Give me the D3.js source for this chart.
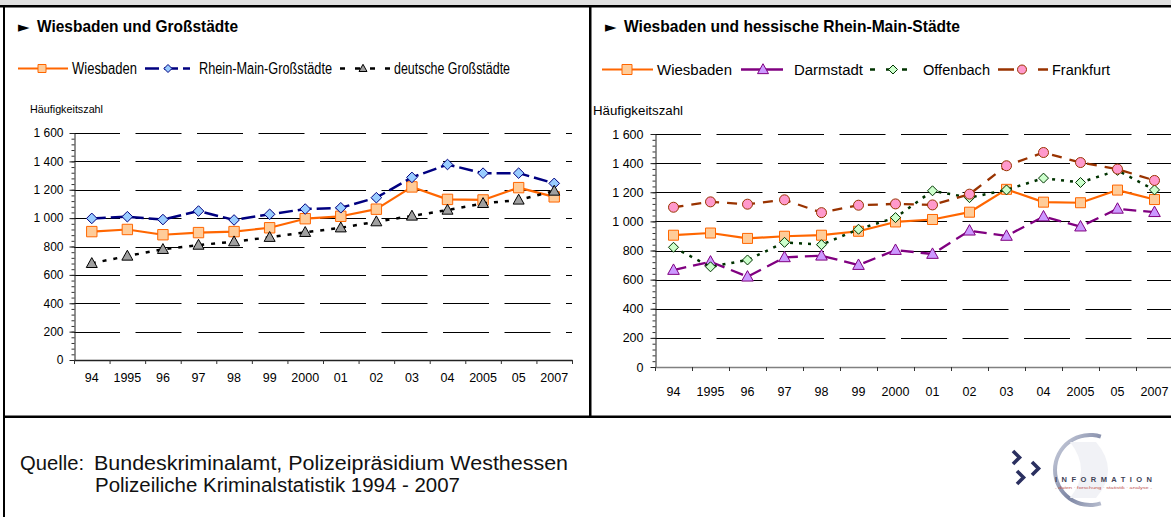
<!DOCTYPE html>
<html>
<head>
<meta charset="utf-8">
<script src="https://cdn.jsdelivr.net/npm/d3@7"></script>
<style>
body { margin: 0; background: #fff; }
svg { display: block; font-family: Arial, "Liberation Sans", sans-serif; }
</style>
</head>
<body>
<div id="chart"></div>
<script>
// Häufigkeitszahl 1994 - 2007
const years = ['94', '1995', '96', '97', '98', '99', '2000', '01', '02', '03', '04', '2005', '05', '2007']
const yTicks = [0, 200, 400, 600, 800, 1000, 1200, 1400, 1600]

const wiesbaden = [905, 920, 883, 898, 905, 932, 996, 1013, 1063, 1220, 1132, 1128, 1215, 1150]
const rheinMain = [998, 1010, 990, 1050, 987, 1027, 1064, 1073, 1144, 1287, 1378, 1317, 1317, 1245]
const deutsche = [681, 733, 780, 810, 834, 865, 900, 932, 975, 1015, 1057, 1104, 1128, 1191]

const darmstadt = [666, 723, 620, 753, 764, 700, 803, 776, 936, 900, 1033, 964, 1086, 1063]
const offenbach = [822, 688, 735, 856, 840, 946, 1026, 1210, 1163, 1216, 1297, 1267, 1350, 1216]
const frankfurt = [1097, 1134, 1118, 1148, 1060, 1111, 1120, 1113, 1187, 1382, 1473, 1404, 1359, 1281]

const W = 1171, H = 517
const fmt = d3.formatLocale({ decimal: ',', thousands: ' ', grouping: [3], currency: ['', ''] }).format(',d')

const svg = d3.select('#chart').append('svg')
    .attr('width', W)
    .attr('height', H)

// frame
svg.append('rect').attr('x', 0).attr('y', 0).attr('width', W).attr('height', 5).attr('fill', '#e0e0e0')
svg.append('rect').attr('x', 0).attr('y', 5).attr('width', W).attr('height', 2.5).attr('fill', '#000')
svg.append('rect').attr('x', 3).attr('y', 5).attr('width', 2).attr('height', H).attr('fill', '#000')
svg.append('rect').attr('x', 589).attr('y', 5).attr('width', 2.5).attr('height', 412).attr('fill', '#000')
svg.append('rect').attr('x', 3).attr('y', 415.5).attr('width', W).attr('height', 2.5).attr('fill', '#000')

// marker shapes
function markerPath(type, s) {
    if (type == 'square') return `M${-s},${-s}H${s}V${s}H${-s}Z`
    if (type == 'diamond') return `M0,${-s}L${s},0L0,${s}L${-s},0Z`
    if (type == 'triangle') return `M0,${-s * 1.05}L${s},${s * 0.75}L${-s},${s * 0.75}Z`
    return null
}

function drawMarker(g, type, s, cx, cy, st) {
    if (type == 'circle') {
        g.append('circle').attr('cx', cx).attr('cy', cy).attr('r', s)
            .attr('fill', st.fill).attr('stroke', st.color).attr('stroke-width', 1)
    } else {
        g.append('path').attr('d', markerPath(type, s))
            .attr('transform', `translate(${cx},${cy})`)
            .attr('fill', st.fill).attr('stroke', st.color).attr('stroke-width', 1)
    }
}

const crisp = v => Math.round(v) + 0.5

function drawPanel(p) {
    const g = svg.append('g')

    // title
    g.append('text').attr('x', p.titleX).attr('y', 31.5)
        .attr('font-size', 15).attr('font-family', '"DejaVu Sans", sans-serif')
        .text('►')
    g.append('text').attr('x', p.titleX + 19).attr('y', 32)
        .attr('font-size', 16.5).attr('font-weight', 'bold')
        .attr('textLength', p.titleW).attr('lengthAdjust', 'spacingAndGlyphs')
        .text(p.title)

    // legend
    p.series.forEach(s => {
        const lg = g.append('g')
        lg.append('line')
            .attr('x1', s.leg[0]).attr('x2', s.leg[1])
            .attr('y1', p.legY).attr('y2', p.legY)
            .attr('stroke', s.color).attr('stroke-width', s.width)
            .attr('stroke-dasharray', s.legDash)
        drawMarker(lg, s.marker, s.legSize, s.leg[2], p.legY, s)
        lg.append('text').attr('x', s.leg[3]).attr('y', p.legY + 5)
            .attr('font-size', p.legFont)
            .attr('textLength', s.leg[4]).attr('lengthAdjust', 'spacingAndGlyphs')
            .text(s.name)
    })

    g.append('text').attr('x', p.unitX).attr('y', p.unitY)
        .attr('font-size', p.unitFont)
        .attr('textLength', p.unitW).attr('lengthAdjust', 'spacingAndGlyphs')
        .text('Häufigkeitszahl')

    const x = d3.scaleBand().domain(years).range([p.x0, p.x1])
    const y = d3.scaleLinear().domain([0, 1600]).range([p.y0, p.y1])

    // dashed gridlines
    g.append('g').selectAll('line')
        .data(yTicks.filter(d => d > 0))
        .join('line')
        .attr('x1', p.x0).attr('x2', p.x1)
        .attr('y1', d => crisp(y(d))).attr('y2', d => crisp(y(d)))
        .attr('stroke', '#000').attr('stroke-width', 1)
        .attr('stroke-dasharray', p.gridDash)

    // y axis: minor + major ticks
    const minor = d3.range(0, 1601, 40)
    g.append('g').attr('transform', `translate(${crisp(p.x0)},0)`)
        .call(d3.axisLeft(y).tickValues(minor).tickSize(3).tickSizeOuter(0).tickFormat(''))
        .call(a => a.select('.domain').remove())
        .call(a => a.selectAll('line').attr('stroke', '#333'))
    g.append('g').attr('transform', `translate(${crisp(p.x0)},0)`)
        .call(d3.axisLeft(y).tickValues(yTicks).tickSize(5).tickSizeOuter(0).tickPadding(p.yPad).tickFormat(fmt))
        .call(a => a.select('.domain').attr('stroke', '#222'))
        .call(a => a.selectAll('line').attr('stroke', '#222'))
        .call(a => a.selectAll('text').attr('font-size', p.yFont).attr('fill', '#000')
            .attr('font-family', 'Arial, "Liberation Sans", sans-serif'))

    // x axis with ticks at the category edges
    const edge = d3.scaleLinear().domain([0, years.length]).range([p.x0, p.x1])
    g.append('g').attr('transform', `translate(0,${p.y0})`)
        .call(d3.axisBottom(edge).tickValues(d3.range(years.length + 1)).tickSize(4).tickSizeOuter(0).tickFormat(''))
        .call(a => a.select('.domain').attr('stroke', p.xAxisColor).attr('stroke-width', 1.5))
        .call(a => a.selectAll('line').attr('stroke', '#333'))
    g.append('g').attr('transform', `translate(0,${p.y0})`)
        .call(d3.axisBottom(x).tickSize(0).tickPadding(p.xPad))
        .call(a => a.select('.domain').remove())
        .call(a => a.selectAll('text').attr('font-size', p.xFont).attr('fill', '#000')
            .attr('font-family', 'Arial, "Liberation Sans", sans-serif'))

    // series
    const cx = i => x(years[i]) + x.bandwidth() / 2
    p.series.forEach(s => {
        const sg = g.append('g')
        sg.append('path').datum(s.values)
            .attr('d', d3.line().x((d, i) => cx(i)).y(d => y(d)))
            .attr('fill', 'none')
            .attr('stroke', s.color).attr('stroke-width', s.width)
            .attr('stroke-dasharray', s.dash)
            .attr('stroke-linejoin', 'round')
        s.values.forEach((v, i) => drawMarker(sg, s.marker, s.size, cx(i), y(v), s))
    })
}

drawPanel({
    title: 'Wiesbaden und Großstädte', titleX: 18, titleW: 201,
    legY: 68.5, legFont: 16,
    unitX: 30, unitY: 113, unitFont: 11, unitW: 73,
    x0: 74, x1: 572, y0: 360, y1: 133,
    gridDash: '46,15.5', yFont: 12, yPad: 6, xFont: 12.5, xPad: 13, xAxisColor: '#222',
    series: [
        { name: 'Wiesbaden', values: wiesbaden, color: '#ff6600', fill: '#ffcc99', width: 2.2, dash: 'none', legDash: 'none',
          marker: 'square', size: 5.2, legSize: 4, leg: [18, 68, 42, 72, 65] },
        { name: 'Rhein-Main-Großstädte', values: rheinMain, color: '#000080', fill: '#99ccff', width: 2.5, dash: '14,5',
          legDash: '14,5', marker: 'diamond', size: 5.3, legSize: 4, leg: [145, 190, 168, 199, 133] },
        { name: 'deutsche Großstädte', values: deutsche, color: '#000', fill: '#a0a0a0', width: 2.5, dash: '4,7',
          legDash: '5,10', marker: 'triangle', size: 5.5, legSize: 4, leg: [340, 392, 363, 394, 116] }
    ]
})

drawPanel({
    title: 'Wiesbaden und hessische Rhein-Main-Städte', titleX: 605, titleW: 336,
    legY: 69.5, legFont: 15.5,
    unitX: 593, unitY: 115, unitFont: 13, unitW: 90,
    x0: 655, x1: 1173, y0: 367, y1: 134,
    gridDash: '46,15.5', yFont: 12.5, yPad: 7, xFont: 12.5, xPad: 20, xAxisColor: '#808080',
    series: [
        { name: 'Wiesbaden', values: wiesbaden, color: '#ff6600', fill: '#ffcc99', width: 2.2, dash: 'none', legDash: 'none',
          marker: 'square', size: 5, legSize: 5, leg: [602, 653, 627, 657, 75] },
        { name: 'Darmstadt', values: darmstadt, color: '#800080', fill: '#cc99ff', width: 2.3, dash: '13,7',
          legDash: 'none', marker: 'triangle', size: 5.8, legSize: 5.5, leg: [741, 783, 763, 794, 69] },
        { name: 'Offenbach', values: offenbach, color: '#003300', fill: '#ccffcc', width: 2.5, dash: '3,6',
          legDash: '5,11', marker: 'diamond', size: 5, legSize: 4.5, leg: [870, 918, 893, 923, 67] },
        { name: 'Frankfurt', values: frankfurt, color: '#993300', fill: '#ff99cc', width: 2.3, dash: '10,8',
          legDash: '16,24', marker: 'circle', size: 5, legSize: 4.5, leg: [998, 1048, 1022, 1052, 58] }
    ]
})

// source note
const foot = svg.append('g').attr('font-size', 19.5).attr('fill', '#111')
foot.append('text').attr('x', 20).attr('y', 470).attr('textLength', 64).attr('lengthAdjust', 'spacingAndGlyphs').text('Quelle:')
foot.append('text').attr('x', 94).attr('y', 470).attr('textLength', 474).attr('lengthAdjust', 'spacingAndGlyphs')
    .text('Bundeskriminalamt, Polizeipräsidium Westhessen')
foot.append('text').attr('x', 95).attr('y', 492).attr('textLength', 365).attr('lengthAdjust', 'spacingAndGlyphs')
    .text('Polizeiliche Kriminalstatistik 1994 - 2007')

// logo
const logo = svg.append('g')
const grad = svg.append('defs').append('linearGradient').attr('id', 'ring')
    .attr('x1', 0).attr('y1', 0).attr('x2', 1).attr('y2', 1)
grad.append('stop').attr('offset', '0%').attr('stop-color', '#d4d8e4')
grad.append('stop').attr('offset', '60%').attr('stop-color', '#7d86a4')
grad.append('stop').attr('offset', '100%').attr('stop-color', '#b9bfd0')
logo.append('path')
    .attr('transform', 'translate(1090,470)')
    .attr('d', d3.arc().innerRadius(33).outerRadius(37)
        .startAngle(Math.PI * 0.9).endAngle(Math.PI * 2.1)())
    .attr('fill', 'url(#ring)')
logo.append('path')
    .attr('d', 'M1070,442 L1096,442 Q1120,470 1096,498 L1070,498 Q1092,470 1070,442Z')
    .attr('fill', '#f1f2f6')
const chev = [[1013, 451], [1032, 462], [1017, 471]]
chev.forEach(c => {
    logo.append('path')
        .attr('d', `M${c[0]},${c[1]} L${c[0] + 6.5},${c[1] + 6.5} L${c[0]},${c[1] + 13}`)
        .attr('fill', 'none').attr('stroke', '#2b3060').attr('stroke-width', 3.6)
})
logo.append('text').attr('x', 1055).attr('y', 482)
    .attr('font-size', 7.5).attr('font-weight', 'bold').attr('fill', '#3d4255')
    .attr('textLength', 97).attr('lengthAdjust', 'spacing')
    .text('INFORMATION')
logo.append('text').attr('x', 1055).attr('y', 488.5)
    .attr('font-size', 3.6).attr('fill', '#c0504d')
    .attr('textLength', 97).attr('lengthAdjust', 'spacingAndGlyphs')
    .text('- daten · forschung · statistik · analyse -')
</script>
</body>
</html>
